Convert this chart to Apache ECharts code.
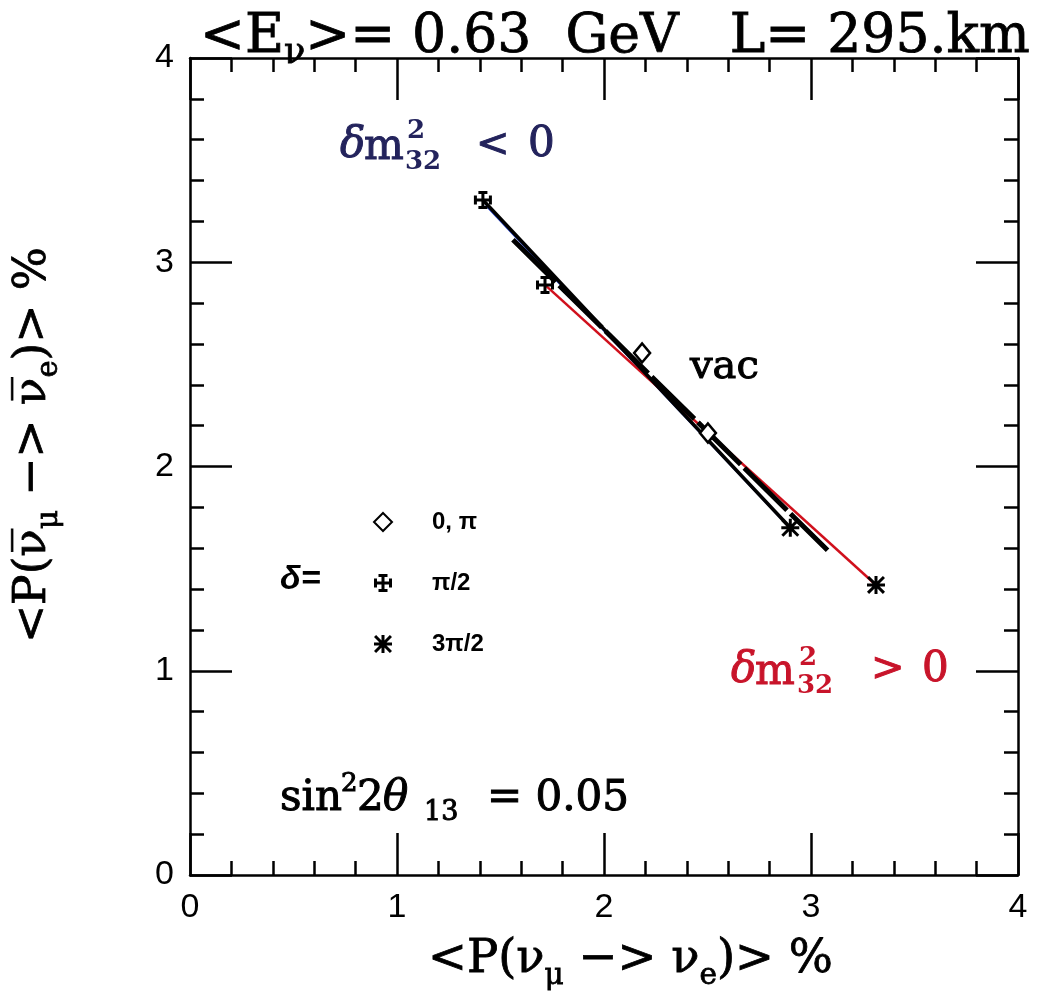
<!DOCTYPE html>
<html>
<head>
<meta charset="utf-8">
<script src="https://cdn.jsdelivr.net/npm/echarts@6/dist/echarts.min.js"></script>
<style>
  html, body { margin: 0; padding: 0; background: #fff; }
  #chart { width: 1039px; height: 1004px; }
</style>
</head>
<body>
<div id="chart"></div>
<script>
// axis ticks (%)
const xTicks = [0, 1, 2, 3, 4];
const yTicks = [0, 1, 2, 3, 4];

// probability curves, <P(nu_mu->nu_e)> vs <P(anti)>, in %
const vacLine = [[1.56, 3.11], [3.08, 1.59]];
const negBlack = [[1.415, 3.305], [2.90, 1.70]];
const negBlue = [[1.43, 3.28], [2.885, 1.715]];
const posRed = [[1.715, 2.889], [3.314, 1.420]];

// CP phase points
const ptsZeroPi = [[2.184, 2.556], [2.502, 2.164]];
const ptsHalfPi = [[1.415, 3.305], [1.715, 2.889]];
const ptsThreeHalfPi = [[2.90, 1.70], [3.314, 1.420]];

const legendNames = ['0, π', 'π/2', '3π/2'];

const crossPath = 'path://M3,0H9V2H7V5H10V3H12V9H10V7H7V10H9V12H3V10H5V7H2V9H0V3H2V5H5V2H3Z';
const starPath = 'path://M5,0H7V12H5Z M0,5H12V7H0Z M0,1.4L1.4,0L12,10.6L10.6,12Z M10.6,0L12,1.4L1.4,12L0,10.6Z';

const serif = '"DejaVu Serif", "Liberation Serif", serif';
const sans = '"Liberation Sans", Arial, sans-serif';

const ctx = document.createElement('canvas').getContext('2d');
function textW(t, size, weight) {
  ctx.font = (weight || 'normal') + ' ' + size + 'px ' + serif;
  return ctx.measureText(t).width;
}

// lay pieces one after another, scaled so the run is targetW wide
function textRun(parts, color, targetW) {
  let w = 0;
  parts.forEach(p => { w += textW(p.t, p.s, p.w); });
  const k = targetW / w;
  let x = 0;
  const out = [];
  parts.forEach(p => {
    out.push({
      type: 'text', x: x, y: p.dy || 0,
      style: {
        text: p.t, fontFamily: serif, fontSize: p.s * k, fontWeight: p.w || 'normal',
        fill: color, stroke: color, lineWidth: 0.8, align: 'left', verticalAlign: 'middle'
      }
    });
    x += textW(p.t, p.s, p.w) * k;
  });
  return out;
}

// pieces at fixed positions (x left, y centre)
function textAt(parts, color, weight) {
  return parts.map(p => ({
    type: 'text', x: p.x, y: p.y,
    style: {
      text: p.t, fontFamily: p.f || serif, fontSize: p.s, fontWeight: p.w || weight || 'normal',
      fontStyle: p.i ? 'italic' : 'normal',
      fill: color, stroke: color, lineWidth: p.lw == null ? 1 : p.lw,
      align: 'left', verticalAlign: 'middle'
    }
  }));
}

const chart = echarts.init(document.getElementById('chart'));

const tickAxis = (pos, showLabel) => ({
  type: 'value', min: 0, max: 4, interval: 1, position: pos,
  axisLine: { show: true, onZero: false, lineStyle: { color: '#000', width: 2.5 } },
  axisTick: { show: true, inside: true, length: 42, lineStyle: { color: '#000', width: 2.5 } },
  minorTick: { show: true, splitNumber: 5, length: 14, lineStyle: { color: '#000', width: 2.5 } },
  splitLine: { show: false },
  minorSplitLine: { show: false },
  axisLabel: { show: showLabel, color: '#000', fontFamily: sans, fontSize: 34, margin: 16 }
});

const lineSeries = (name, data, color, width, type, z) => ({
  name: name, type: 'line', data: data, symbol: 'none', z: z,
  lineStyle: { color: color, width: width, type: type || 'solid' }
});

const option = {
  animation: false,
  backgroundColor: '#fff',
  grid: { left: 190, right: 21, top: 58, bottom: 129 },
  xAxis: [tickAxis('bottom', true), tickAxis('top', false)],
  yAxis: [tickAxis('left', true), tickAxis('right', false)],
  legend: {
    data: legendNames,
    orient: 'vertical',
    left: 368, top: 505,
    itemWidth: 18, itemHeight: 18, itemGap: 37,
    textStyle: { color: '#000', fontFamily: sans, fontWeight: 'bold', fontSize: 24, lineHeight: 24, padding: [0, 0, 0, 35] }
  },
  series: [
    lineSeries('neg', negBlue, '#2340c8', 2.5, 'solid', 2),
    lineSeries('pos', posRed, '#d0101c', 2.5, 'solid', 3),
    lineSeries('vac-neg', negBlack, '#000', 3.5, 'solid', 4),
    lineSeries('vac', vacLine, '#000', 5, [60, 5], 4),
    {
      name: legendNames[0], type: 'scatter', data: ptsZeroPi, symbol: 'diamond', symbolSize: [16, 19], z: 6,
      itemStyle: { color: '#fff', borderColor: '#000', borderWidth: 2.5, opacity: 1 }
    },
    {
      name: legendNames[1], type: 'scatter', data: ptsHalfPi, symbol: crossPath, symbolSize: 18, z: 6,
      itemStyle: { color: '#000', opacity: 1 }
    },
    {
      name: legendNames[2], type: 'scatter', data: ptsThreeHalfPi, symbol: starPath, symbolSize: 18, z: 6,
      itemStyle: { color: '#000', opacity: 1 }
    }
  ],
  graphic: [
    { type: 'group', x: 200, y: 38, children: textRun([
      { t: '<E', s: 46 }, { t: 'ν', s: 30, dy: 16 }, { t: '>= 0.63  GeV   L= 295.km', s: 46 }
    ], '#000', 830) },
    { type: 'group', x: 428, y: 960, children: textRun([
      { t: '<P(ν', s: 44 }, { t: 'μ', s: 28, dy: 16 }, { t: ' −> ν', s: 44 }, { t: 'e', s: 28, dy: 16 }, { t: ')> %', s: 44 }
    ], '#000', 405) },
    { type: 'group', x: 33, y: 643, rotation: Math.PI / 2, children: textRun([
      { t: '<P(ν\u0305', s: 44 }, { t: 'μ', s: 28, dy: 16 }, { t: ' −> ν\u0305', s: 44 }, { t: 'e', s: 28, dy: 16 }, { t: ')> %', s: 44 }
    ], '#000', 396) },
    { type: 'group', children: textAt([
      { t: 'δ', x: 340, y: 146, s: 42, i: true }, { t: 'm', x: 364, y: 148, s: 42 },
      { t: '2', x: 407, y: 131, s: 26, w: 'bold', lw: 0 }, { t: '32', x: 405, y: 162, s: 26, w: 'bold', lw: 0 },
      { t: '<', x: 476, y: 146, s: 40 }, { t: '0', x: 528, y: 145, s: 42 }
    ], '#23235c') },
    { type: 'group', children: textAt([
      { t: 'δ', x: 731, y: 671, s: 42, i: true }, { t: 'm', x: 755, y: 673, s: 42 },
      { t: '2', x: 799, y: 658, s: 26, w: 'bold', lw: 0 }, { t: '32', x: 797, y: 686, s: 26, w: 'bold', lw: 0 },
      { t: '>', x: 871, y: 670, s: 40 }, { t: '0', x: 922, y: 670, s: 42 }
    ], '#c8142a') },
    { type: 'group', children: textAt([
      { t: 'sin', x: 280, y: 799, s: 42 }, { t: '2', x: 341, y: 784, s: 26 },
      { t: '2', x: 357, y: 799, s: 42 }, { t: 'θ', x: 383, y: 799, s: 42, i: true },
      { t: '13', x: 424, y: 813, s: 27 }, { t: '= 0.05', x: 487, y: 799, s: 42 }
    ], '#000') },
    { type: 'group', children: textAt([
      { t: 'vac', x: 690, y: 368, s: 40 }
    ], '#000') },
    { type: 'group', children: textAt([
      { t: 'δ=', x: 280, y: 580, s: 34, f: sans, w: 'bold', i: true, lw: 0 }
    ], '#000') }
  ]
};

chart.setOption(option);
</script>
</body>
</html>
